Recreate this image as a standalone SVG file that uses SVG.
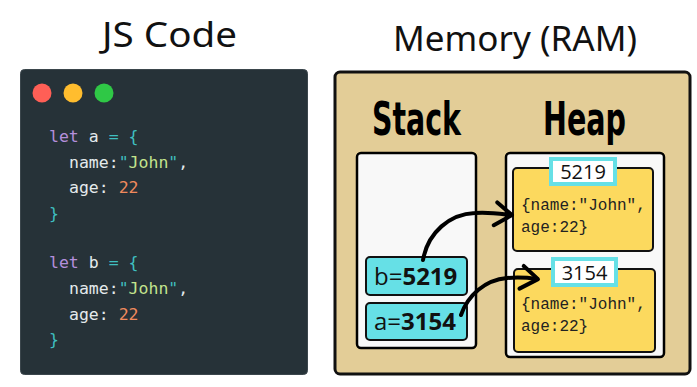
<svg xmlns="http://www.w3.org/2000/svg" width="697" height="387" viewBox="0 0 697 387">
<defs>
<style>
.title{font-family:"Noto Sans","DejaVu Sans",sans-serif;font-size:34px;fill:#111;}
.code{font-family:"DejaVu Sans Mono","Liberation Mono",monospace;font-size:16.5px;fill:#e4eaec;}
.kw{fill:#b48fdc;}
.op{fill:#3fbfc0;}
.str{fill:#c3e48d;}
.num{fill:#f08a5d;}
.sec{font-family:"DejaVu Sans","Liberation Sans",sans-serif;font-weight:bold;font-size:46px;fill:#000;}
.box{fill:#f8f8f8;stroke:#000;stroke-width:2.5;}
.obj{fill:#fcd95e;stroke:#111;stroke-width:2;}
.addr{fill:#fff;stroke:#66e0e6;stroke-width:4;}
.addrt{font-family:"Open Sans","Noto Sans",sans-serif;font-size:20px;fill:#111;text-anchor:middle;}
.objt{font-family:"Liberation Mono","Courier New",monospace;font-size:16px;fill:#222;}
.var{fill:#66e0e6;stroke:#111;stroke-width:2;}
.vart{font-family:"Open Sans","Noto Sans",sans-serif;font-size:24px;fill:#111;}
.arrow{fill:none;stroke:#000;stroke-width:4;stroke-linecap:round;}
</style>
<marker id="chev" markerUnits="userSpaceOnUse" markerWidth="40" markerHeight="40" viewBox="-20 -20 40 40" refX="0" refY="0" orient="auto" overflow="visible">
<path d="M -15 -11 L 1 0 L -16 12" fill="none" stroke="#000" stroke-width="4" stroke-linecap="round" stroke-linejoin="round"/>
</marker>
</defs>
<rect width="697" height="387" fill="#fff"/>

<g id="title-js">
<text class="title" x="102" y="47" textLength="135" lengthAdjust="spacingAndGlyphs">JS Code</text>
</g>
<g id="title-mem">
<text class="title" x="393" y="51" textLength="244" lengthAdjust="spacingAndGlyphs">Memory (RAM)</text>
</g>

<g id="code-window">
<rect x="20.5" y="69.5" width="287" height="305" rx="4" fill="#263238" stroke="#3b464c" stroke-width="1"/>
<circle cx="42" cy="93" r="9.5" fill="#ff5f56"/>
<circle cx="73" cy="93" r="9.5" fill="#ffbd2e"/>
<circle cx="104" cy="93" r="9.5" fill="#2fc846"/>
<text class="code" x="49" y="142"><tspan class="kw">let</tspan> a <tspan class="op">=</tspan> <tspan class="op">{</tspan></text>
<text class="code" x="69" y="167.5">name:<tspan class="op">"</tspan><tspan class="str">John</tspan><tspan class="op">"</tspan>,</text>
<text class="code" x="69" y="193">age: <tspan class="num">22</tspan></text>
<text class="code op" x="49" y="218.5">}</text>
<text class="code" x="49" y="268"><tspan class="kw">let</tspan> b <tspan class="op">=</tspan> <tspan class="op">{</tspan></text>
<text class="code" x="69" y="294">name:<tspan class="op">"</tspan><tspan class="str">John</tspan><tspan class="op">"</tspan>,</text>
<text class="code" x="69" y="320">age: <tspan class="num">22</tspan></text>
<text class="code op" x="49" y="345">}</text>
</g>

<g id="memory">
<rect x="335" y="72" width="355" height="302" rx="5" fill="#e3cd97" stroke="#111" stroke-width="3"/>
</g>

<g id="stack">
<text class="sec" x="372" y="135" textLength="89" lengthAdjust="spacingAndGlyphs">Stack</text>
<rect class="box" x="357" y="153" width="119" height="195" rx="4"/>
</g>

<g id="heap">
<text class="sec" x="543" y="135" textLength="83" lengthAdjust="spacingAndGlyphs">Heap</text>
<rect class="box" x="506" y="153" width="158" height="204" rx="4"/>
</g>

<g id="obj-5219">
<rect class="obj" x="513" y="168" width="140" height="83" rx="4"/>
<rect class="addr" x="551" y="159" width="64" height="25"/>
<text class="addrt" x="583" y="179">5219</text>
<text class="objt" x="521" y="210">{name:"John",</text>
<text class="objt" x="521" y="232">age:22}</text>
</g>

<g id="obj-3154">
<rect class="obj" x="514" y="269" width="141" height="83" rx="4"/>
<rect class="addr" x="553" y="259" width="63" height="26"/>
<text class="addrt" x="584.5" y="280">3154</text>
<text class="objt" x="521" y="309">{name:"John",</text>
<text class="objt" x="521" y="331">age:22}</text>
</g>

<g id="var-b">
<rect class="var" x="366" y="257" width="101" height="38" rx="4"/>
<text class="vart" x="374" y="285">b=<tspan font-weight="bold">5219</tspan></text>
</g>

<g id="var-a">
<rect class="var" x="366" y="303" width="101" height="37" rx="4"/>
<text class="vart" x="374" y="330">a=<tspan font-weight="bold">3154</tspan></text>
</g>

<g id="connectors">
<path class="arrow" d="M 423 260 C 428 232, 450 214, 475 213 C 490 212, 502 214, 511 215" marker-end="url(#chev)"/>
<path class="arrow" d="M 461 315 C 468 295, 485 280, 507 278 C 520 277, 530 278, 537 279" marker-end="url(#chev)"/>
</g>
</svg>
